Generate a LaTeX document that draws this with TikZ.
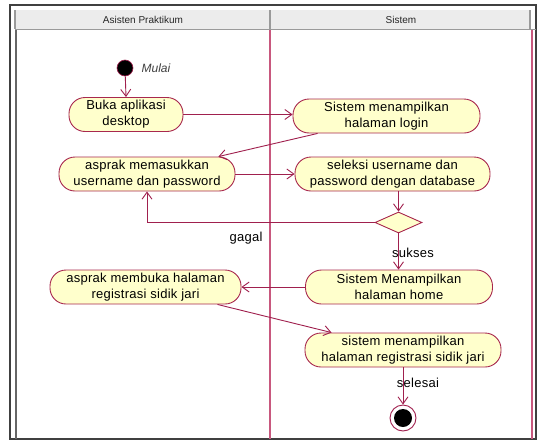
\documentclass[tikz,border=0pt]{standalone}
\usepackage{fontspec}
\setmainfont{Liberation Sans}
\newfontfamily\actfont[LetterSpace=2]{Liberation Sans}
\usetikzlibrary{arrows.meta,shapes.geometric,calc}
\definecolor{conn}{HTML}{A0204E}
\definecolor{lane}{HTML}{C8587E}
\definecolor{nodeb}{HTML}{A8284E}
\definecolor{nodef}{HTML}{FFFFCC}
\definecolor{hdrf}{HTML}{ECECEC}
\definecolor{hdrl}{HTML}{9A9A9A}
\definecolor{frame}{HTML}{404040}
\tikzset{
  act/.style={draw=nodeb, fill=nodef, line width=0.9pt, rounded corners=16pt,
    minimum height=34pt, inner sep=0pt, align=center,
    font=\actfont\fontsize{13}{16}\selectfont},
  flow/.style={draw=conn, line width=0.9pt, -{Straight Barb[length=7pt,width=10pt]}},
  lbl/.style={font=\actfont\fontsize{13}{16}\selectfont, inner sep=0pt},
  hdr/.style={font=\fontsize{10}{12}\selectfont, inner sep=0pt, text=black!85},
  dec/.style={diamond, draw=nodeb, fill=nodef, line width=0.9pt, inner sep=0pt,
    minimum width=47pt, minimum height=21pt, aspect=2.2}
}
\begin{document}
\begin{tikzpicture}[x=1pt,y=-1pt]
\useasboundingbox (0,0) rectangle (546,442);
% frame
\fill[white] (0,0) rectangle (546,442);
\fill[hdrf] (15,10) rectangle (531,29);
\draw[frame, line width=1.3pt] (10,5) rectangle (536,439);
\draw[hdrl, line width=1.6pt] (15,10) -- (15,29) (270,10) -- (270,29) (530,10) -- (530,29);
\draw[hdrl, line width=1.8pt] (15,29.5) -- (536,29.5);
\draw[frame!80, line width=1.2pt] (16,30) -- (16,439);
\draw[lane, line width=1.2pt] (270,30) -- (270,439);
\draw[lane, line width=1.2pt] (532,30) -- (532,439);
\node[hdr] (h1) at (143,19.5) {Asisten Praktikum};
\node[hdr] (h2) at (401,19.5) {Sistem};
% nodes
\node[circle, fill=black, draw=conn, line width=0.6pt, minimum size=16pt, inner sep=0pt] (start) at (125,68) {};
\node[font=\fontsize{12}{14}\selectfont\itshape, text=black!75, inner sep=0pt] (mulai) at (156,68) {Mulai};
\node[act, minimum width=114pt] (buka) at (126,114.5) {Buka aplikasi\\desktop};
\node[act, minimum width=187pt] (login) at (386.5,116) {Sistem menampilkan\\halaman login};
\node[act, minimum width=176pt] (masuk) at (147,174) {asprak memasukkan\\username dan password};
\node[act, minimum width=195pt] (seleksi) at (392.5,174) {seleksi username dan\\password dengan database};
\node[dec] (dia) at (398.5,222.5) {};
\node[act, minimum width=187pt] (home) at (399,287) {Sistem Menampilkan\\halaman home};
\node[act, minimum width=191pt] (membuka) at (145.5,287) {asprak membuka halaman\\registrasi sidik jari};
\node[act, minimum width=196pt] (regis) at (403,350) {sistem menampilkan\\halaman registrasi sidik jari};
\node[circle, draw=conn, fill=white, line width=0.9pt, minimum size=26pt, inner sep=0pt] (end) at (403,418) {};
\node[circle, fill=black, minimum size=18pt, inner sep=0pt] (endin) at (end.center) {};
% labels
\node[lbl] (gagal) at (246,238) {gagal};
\node[lbl] (sukses) at (413,253) {sukses};
\node[lbl] (selesai) at (418,383) {selesai};
% connectors
\draw[flow] (start) -- (buka.north);
\draw[flow] (buka.east) -- (buka.east -| login.west);
\draw[flow] ($(login.south west)+(25,0)$) -- ($(masuk.north east)+(-17,0)$);
\draw[flow] (masuk.east) -- (seleksi.west);
\draw[flow] (dia.north |- seleksi.south) -- (dia.north);
\draw[flow] (dia.west) -| (masuk.south);
\draw[flow] (dia.south) -- (dia.south |- home.north);
\draw[flow] (home.west) -- (membuka.east);
\draw[flow] ($(membuka.south east)+(-24,0)$) -- ($(regis.north west)+(27,0)$);
\draw[flow] (regis.south) -- (end.north);
\end{tikzpicture}
\end{document}
